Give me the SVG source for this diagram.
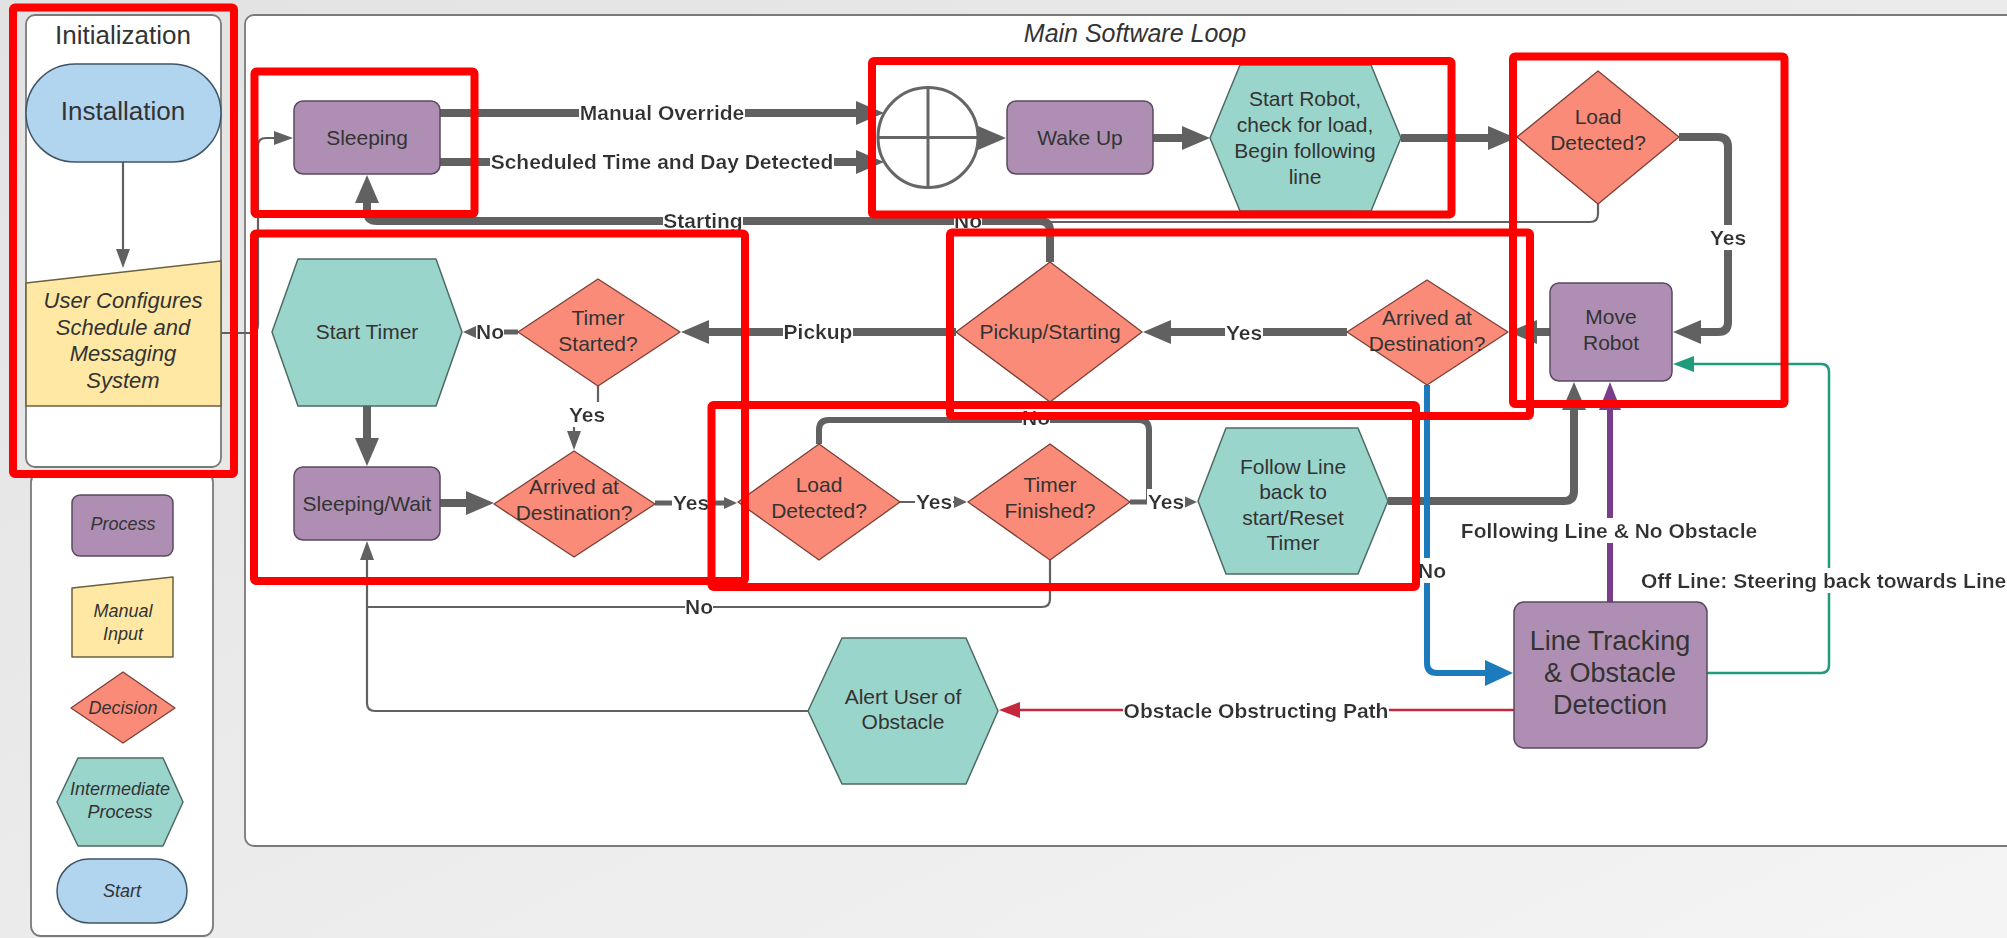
<svg xmlns="http://www.w3.org/2000/svg" width="2007" height="938" viewBox="0 0 2007 938">
<defs>
<linearGradient id="bgGrad" x1="0" y1="0" x2="1" y2="1"><stop offset="0" stop-color="#e2e2e2"/><stop offset="1" stop-color="#f4f4f4"/></linearGradient>
<filter id="lblbg" x="0" y="-0.02" width="1" height="1.04"><feFlood flood-color="#ffffff"/><feComposite in="SourceGraphic" operator="over"/></filter>
<marker id="aBig" markerUnits="userSpaceOnUse" markerWidth="30" markerHeight="24" refX="2" refY="12" orient="auto"><path d="M0,0 L28,12 L0,24 Z" fill="#616161"/></marker>
<marker id="aSm" markerUnits="userSpaceOnUse" markerWidth="14" markerHeight="12" refX="1" refY="6" orient="auto"><path d="M0,0 L13,6 L0,12 Z" fill="#616161"/></marker>
<marker id="aThin" markerUnits="userSpaceOnUse" markerWidth="20" markerHeight="14" refX="1" refY="7" orient="auto"><path d="M0,0 L19,7 L0,14 Z" fill="#616161"/></marker>
<marker id="aBlue" markerUnits="userSpaceOnUse" markerWidth="30" markerHeight="26" refX="2" refY="13" orient="auto"><path d="M0,0 L28,13 L0,26 Z" fill="#1b7bbd"/></marker>
<marker id="aPurple" markerUnits="userSpaceOnUse" markerWidth="30" markerHeight="22" refX="2" refY="11" orient="auto"><path d="M0,0 L28,11 L0,22 Z" fill="#7a3d8c"/></marker>
<marker id="aTeal" markerUnits="userSpaceOnUse" markerWidth="22" markerHeight="16" refX="1" refY="8" orient="auto"><path d="M0,0 L21,8 L0,16 Z" fill="#1f9a7c"/></marker>
<marker id="aRed" markerUnits="userSpaceOnUse" markerWidth="22" markerHeight="16" refX="1" refY="8" orient="auto"><path d="M0,0 L21,8 L0,16 Z" fill="#c4283c"/></marker>
<style>
.panel{fill:#fff;stroke:#7a7a7a;stroke-width:1.8}
.proc{fill:#ae8fb3;stroke:#5a4a60;stroke-width:1.5}
.dec{fill:#fa8b79;stroke:#7c3f36;stroke-width:1.3;stroke-linejoin:round}
.hex{fill:#9ad5cb;stroke:#4d6a65;stroke-width:1.5;stroke-linejoin:round}
.start{fill:#b1d4ef;stroke:#3f5566;stroke-width:1.5}
.man{fill:#fee8a4;stroke:#6b6040;stroke-width:1.5;stroke-linejoin:round}
.t{font-family:'Liberation Sans',Arial,sans-serif;font-size:21px;fill:#333;text-anchor:middle}
.it{font-style:italic}
.lbl{font-family:'Liberation Sans',Arial,sans-serif;font-size:21px;font-weight:bold;fill:#333;text-anchor:middle}
.c{fill:none;stroke:#616161;stroke-linecap:butt;stroke-linejoin:round}
.w8{stroke-width:8}
.w5{stroke-width:5}
.w2{stroke-width:2.2}
.hl{fill:none;stroke:#ff0000;stroke-width:8}
</style>
</defs>
<rect x="0" y="0" width="2007" height="938" fill="url(#bgGrad)"/>

<g id="panels">
<rect class="panel" x="26" y="15" width="195" height="452" rx="9"/>
<text class="t" x="123" y="44" style="font-size:26px">Initialization</text>
<rect class="panel" x="245" y="15" width="1800" height="831" rx="9"/>
<text class="t it" x="1135" y="42" style="font-size:25px">Main Software Loop</text>
<rect class="panel" x="31" y="472" width="182" height="464" rx="10"/>
</g>

<g id="legend">
<rect class="proc" x="72" y="495" width="101" height="61" rx="8"/>
<text class="t it" x="123" y="530" style="font-size:18px">Process</text>
<polygon class="man" points="72,588 173,577 173,657 72,657"/>
<text class="t it" x="123" y="617" style="font-size:18px">Manual</text>
<text class="t it" x="123" y="640" style="font-size:18px">Input</text>
<polygon class="dec" points="71,708 123,672 175,708 123,743"/>
<text class="t it" x="123" y="714" style="font-size:18px">Decision</text>
<polygon class="hex" points="57,802 78,758 163,758 183,802 163,846 78,846"/>
<text class="t it" x="120" y="795" style="font-size:18px">Intermediate</text>
<text class="t it" x="120" y="818" style="font-size:18px">Process</text>
<rect class="start" x="57" y="859" width="130" height="64" rx="32"/>
<text class="t it" x="122" y="897" style="font-size:18px">Start</text>
</g>

<g id="connectors">
<path class="c w2" d="M123,162 V250" marker-end="url(#aThin)"/>
<path class="c w2" d="M221,333 H250 Q258,333 258,325 V146 Q258,138 266,138 H275" marker-end="url(#aThin)"/>
<path class="c w8" d="M440,113 H858" marker-end="url(#aBig)"/>
<path class="c w8" d="M440,162 H858" marker-end="url(#aBig)"/>
<path class="c w5" d="M976,138 H980" marker-end="url(#aBig)"/>
<path class="c w8" d="M1153,138 H1184" marker-end="url(#aBig)"/>
<path class="c w8" d="M1401,138 H1490" marker-end="url(#aBig)"/>
<path class="c w8" d="M1679,137 H1718 Q1728,137 1728,147 V322 Q1728,332 1718,332 H1699" marker-end="url(#aBig)"/>
<path class="c w2" d="M1598,204 V214 Q1598,222 1590,222 H1050"/>
<path class="c w8" d="M1050,262 V231 Q1050,221 1040,221 H377 Q367,221 367,211 V201" marker-end="url(#aBig)"/>
<path class="c w8" d="M1550,332 H1535" marker-end="url(#aBig)"/>
<path class="c w8" d="M1347,332 H1169" marker-end="url(#aBig)"/>
<path class="c w8" d="M956,332 H707" marker-end="url(#aBig)"/>
<path class="c w5" d="M518,332 H475" marker-end="url(#aSm)"/>
<path class="c w2" d="M598,386 V408 L574,420 V432" marker-end="url(#aThin)"/>
<path class="c w8" d="M367,406 V440" marker-end="url(#aBig)"/>
<path class="c w8" d="M440,503 H468" marker-end="url(#aBig)"/>
<path class="c w5" d="M655,503 H725" marker-end="url(#aSm)"/>
<path class="c w2" d="M900,502 H955" marker-end="url(#aSm)"/>
<path class="c w5" d="M1130,502 H1185" marker-end="url(#aSm)"/>
<path class="c" style="stroke-width:6" d="M819,444 V430 Q819,420 829,420 H1139 Q1149,420 1149,430 V502"/>
<path class="c w8" d="M1388,501 H1564 Q1574,501 1574,491 V408" marker-end="url(#aBig)"/>
<path class="c w2" d="M1050,560 V599 Q1050,607 1042,607 H367"/>
<path class="c w2" d="M808,711 H375 Q367,711 367,703 V559" marker-end="url(#aThin)"/>
<path fill="none" stroke="#1b7bbd" stroke-width="6" stroke-linejoin="round" d="M1427,385 V663 Q1427,673 1437,673 H1487" marker-end="url(#aBlue)"/>
<path fill="none" stroke="#7a3d8c" stroke-width="6" d="M1610,602 V408" marker-end="url(#aPurple)"/>
<path fill="none" stroke="#1f9a7c" stroke-width="2.5" stroke-linejoin="round" d="M1707,673 H1821 Q1829,673 1829,665 V372 Q1829,364 1821,364 H1693" marker-end="url(#aTeal)"/>
<path fill="none" stroke="#c4283c" stroke-width="2.5" d="M1514,710 H1019" marker-end="url(#aRed)"/>

<g id="connector-labels">
<text class="lbl" x="662" y="120" filter="url(#lblbg)">Manual Override</text>
<text class="lbl" x="662" y="169" filter="url(#lblbg)">Scheduled Time and Day Detected</text>
<text class="lbl" x="703" y="228" filter="url(#lblbg)">Starting</text>
<text class="lbl" x="968" y="228" filter="url(#lblbg)">No</text>
<text class="lbl" x="1728" y="245" filter="url(#lblbg)">Yes</text>
<text class="lbl" x="1244" y="340" filter="url(#lblbg)">Yes</text>
<text class="lbl" x="818" y="339" filter="url(#lblbg)">Pickup</text>
<text class="lbl" x="490" y="339" filter="url(#lblbg)">No</text>
<text class="lbl" x="587" y="422" filter="url(#lblbg)">Yes</text>
<text class="lbl" x="691" y="510" filter="url(#lblbg)">Yes</text>
<text class="lbl" x="1036" y="425" filter="url(#lblbg)">No</text>
<text class="lbl" x="934" y="509" filter="url(#lblbg)">Yes</text>
<text class="lbl" x="1166" y="509" filter="url(#lblbg)">Yes</text>
<text class="lbl" x="699" y="614" filter="url(#lblbg)">No</text>
<text class="lbl" x="1432" y="578" filter="url(#lblbg)">No</text>
<text class="lbl" x="1609" y="538" filter="url(#lblbg)">Following Line &amp; No Obstacle</text>
<text class="lbl" x="1641" y="588" style="text-anchor:start" filter="url(#lblbg)">Off Line: Steering back towards Line</text>
<text class="lbl" x="1256" y="718" filter="url(#lblbg)">Obstacle Obstructing Path</text>
</g>
</g>

<g id="installation">
<rect class="start" x="26" y="64" width="195" height="98" rx="49"/>
<text class="t" x="123" y="120" style="font-size:26px">Installation</text>
</g>
<g id="user-configures">
<polygon class="man" points="26,283 221,261 221,406 26,406"/>
<text class="t it" x="123" y="308" style="font-size:22px">User Configures</text>
<text class="t it" x="123" y="335" style="font-size:22px">Schedule and</text>
<text class="t it" x="123" y="361" style="font-size:22px">Messaging</text>
<text class="t it" x="123" y="388" style="font-size:22px">System</text>
</g>
<g id="sleeping">
<rect class="proc" x="294" y="101" width="146" height="73" rx="9"/>
<text class="t" x="367" y="145">Sleeping</text>
</g>
<g id="or-junction">
<circle cx="928" cy="137.5" r="50" fill="#fff" stroke="#666" stroke-width="3"/>
<path d="M878,137.5 H978 M928,87.5 V187.5" stroke="#666" stroke-width="3"/>
</g>
<g id="wake-up">
<rect class="proc" x="1007" y="101" width="146" height="73" rx="9"/>
<text class="t" x="1080" y="145">Wake Up</text>
</g>
<g id="start-robot">
<polygon class="hex" points="1210,138 1240,65 1371,65 1401,138 1371,211 1240,211"/>
<text class="t" x="1305" y="106">Start Robot,</text>
<text class="t" x="1305" y="132">check for load,</text>
<text class="t" x="1305" y="158">Begin following</text>
<text class="t" x="1305" y="184">line</text>
</g>
<g id="load-detected-top">
<polygon class="dec" points="1517,137 1598,71 1679,137 1598,204"/>
<text class="t" x="1598" y="124">Load</text>
<text class="t" x="1598" y="150">Detected?</text>
</g>
<g id="move-robot">
<rect class="proc" x="1550" y="283" width="122" height="98" rx="9"/>
<text class="t" x="1611" y="324">Move</text>
<text class="t" x="1611" y="350">Robot</text>
</g>
<g id="arrived-right">
<polygon class="dec" points="1347,332 1427,280 1508,332 1427,385"/>
<text class="t" x="1427" y="325">Arrived at</text>
<text class="t" x="1427" y="351">Destination?</text>
</g>
<g id="pickup-starting">
<polygon class="dec" points="956,332 1050,262 1142,332 1050,402"/>
<text class="t" x="1050" y="339">Pickup/Starting</text>
</g>
<g id="timer-started">
<polygon class="dec" points="518,332 598,279 680,332 598,386"/>
<text class="t" x="598" y="325">Timer</text>
<text class="t" x="598" y="351">Started?</text>
</g>
<g id="start-timer">
<polygon class="hex" points="272,332 298,259 436,259 462,332 436,406 298,406"/>
<text class="t" x="367" y="339">Start Timer</text>
</g>
<g id="sleeping-wait">
<rect class="proc" x="294" y="467" width="146" height="73" rx="9"/>
<text class="t" x="367" y="511">Sleeping/Wait</text>
</g>
<g id="arrived-left">
<polygon class="dec" points="494,504 574,451 655,504 574,557"/>
<text class="t" x="574" y="494">Arrived at</text>
<text class="t" x="574" y="520">Destination?</text>
</g>
<g id="load-detected-lower">
<polygon class="dec" points="738,502 819,444 900,502 819,560"/>
<text class="t" x="819" y="492">Load</text>
<text class="t" x="819" y="518">Detected?</text>
</g>
<g id="timer-finished">
<polygon class="dec" points="968,502 1050,444 1130,502 1050,560"/>
<text class="t" x="1050" y="492">Timer</text>
<text class="t" x="1050" y="518">Finished?</text>
</g>
<g id="follow-line">
<polygon class="hex" points="1198,501 1226,428 1358,428 1388,501 1358,574 1226,574"/>
<text class="t" x="1293" y="474">Follow Line</text>
<text class="t" x="1293" y="499">back to</text>
<text class="t" x="1293" y="525">start/Reset</text>
<text class="t" x="1293" y="550">Timer</text>
</g>
<g id="line-tracking">
<rect class="proc" x="1514" y="602" width="193" height="146" rx="10"/>
<text class="t" x="1610" y="650" style="font-size:27px">Line Tracking</text>
<text class="t" x="1610" y="682" style="font-size:27px">&amp; Obstacle</text>
<text class="t" x="1610" y="714" style="font-size:27px">Detection</text>
</g>
<g id="alert-user">
<polygon class="hex" points="808,711 842,638 966,638 998,711 966,784 842,784"/>
<text class="t" x="903" y="704">Alert User of</text>
<text class="t" x="903" y="729">Obstacle</text>
</g>

<g id="highlights">
<rect class="hl" x="13" y="7.5" width="221" height="466.5" rx="2"/>
<rect class="hl" x="254.5" y="71.5" width="220" height="142.5" rx="2"/>
<rect class="hl" x="872" y="61" width="579.5" height="153.5" rx="2"/>
<rect class="hl" x="1513" y="56.5" width="271.5" height="347.5" rx="2"/>
<rect class="hl" x="254" y="233.5" width="491" height="347.5" rx="2"/>
<rect class="hl" x="711.5" y="405" width="704.5" height="182" rx="2"/>
<rect class="hl" x="950" y="232.5" width="580" height="183.5" rx="2"/>
</g>
</svg>
